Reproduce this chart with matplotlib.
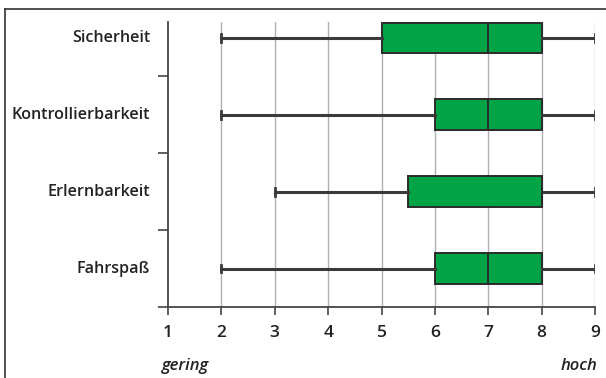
import matplotlib
matplotlib.use("Agg")
import matplotlib.pyplot as plt
from matplotlib.lines import Line2D

categories = ["Fahrspaß", "Erlernbarkeit", "Kontrollierbarkeit", "Sicherheit"]
whisker_low = [2, 3, 2, 2]
q1 = [6, 5.5, 6, 5]
median = [7, 8, 7, 7]
q3 = [8, 8, 8, 8]
whisker_high = [9, 9, 9, 9]
x_ticks = [1, 2, 3, 4, 5, 6, 7, 8, 9]

W, H = 606, 378
fig = plt.figure(figsize=(W / 100, H / 100), dpi=100)
fig.patch.set_facecolor("white")

ax = fig.add_axes([168 / W, (H - 307) / H, (595 - 168) / W, (307 - 22) / H])

stats = []
for i, name in enumerate(categories):
    stats.append(dict(label=name, whislo=whisker_low[i], q1=q1[i], med=median[i],
                      q3=q3[i], whishi=whisker_high[i], fliers=[]))

positions = list(range(1, len(categories) + 1))
ax.bxp(stats, positions=positions, widths=0.40, orientation="horizontal",
       patch_artist=True, showfliers=False, capwidths=0.10,
       boxprops=dict(facecolor="#00A346", edgecolor="#2b2b2b", linewidth=1.4),
       medianprops=dict(color="#2b2b2b", linewidth=1.4),
       whiskerprops=dict(color="#3a3a3a", linewidth=2.2),
       capprops=dict(color="#3a3a3a", linewidth=2.0),
       zorder=3)

ax.set_xlim(1, 9)
ax.set_ylim(0.5, 4 + 16 / 77)
ax.set_xticks(x_ticks)
ax.set_xticklabels([str(v) for v in x_ticks], fontfamily="Open Sans",
                   fontweight="semibold", fontsize=12.5, color="#222222")
ax.set_yticks([0.5, 1.5, 2.5, 3.5])
ax.set_yticklabels([])
ax.tick_params(axis="x", direction="out", length=6, width=1.2, color="#444444", pad=7)
ax.tick_params(axis="y", direction="out", length=7, width=1.2, color="#444444")

for v in x_ticks[1:]:
    ax.axvline(v, color="#b0b0b0", linewidth=1.0, zorder=1)

for side in ("top", "right"):
    ax.spines[side].set_visible(False)
for side in ("left", "bottom"):
    ax.spines[side].set_color("#444444")
    ax.spines[side].set_linewidth(1.3)

for pos, name in zip(positions, categories):
    ax.text(-0.042, pos, name, transform=ax.get_yaxis_transform(),
            ha="right", va="center", fontfamily="Open Sans",
            fontweight="semibold", fontsize=11.6, color="#222222")

fig.text(162 / W, 1 - 366 / H, "gering", ha="left", va="center",
         fontfamily="Open Sans", fontweight="semibold", style="italic",
         fontsize=12, color="#222222")
fig.text(597 / W, 1 - 366 / H, "hoch", ha="right", va="center",
         fontfamily="Open Sans", fontweight="semibold", style="italic",
         fontsize=12, color="#222222")

# frame lines around the figure
fig.add_artist(Line2D([5 / W, 1], [1 - 9 / H, 1 - 9 / H], transform=fig.transFigure,
                      color="#333333", linewidth=1.2))
fig.add_artist(Line2D([5 / W, 5 / W], [0, 1 - 9 / H], transform=fig.transFigure,
                      color="#333333", linewidth=1.2))

fig.savefig("out.png", dpi=100)
